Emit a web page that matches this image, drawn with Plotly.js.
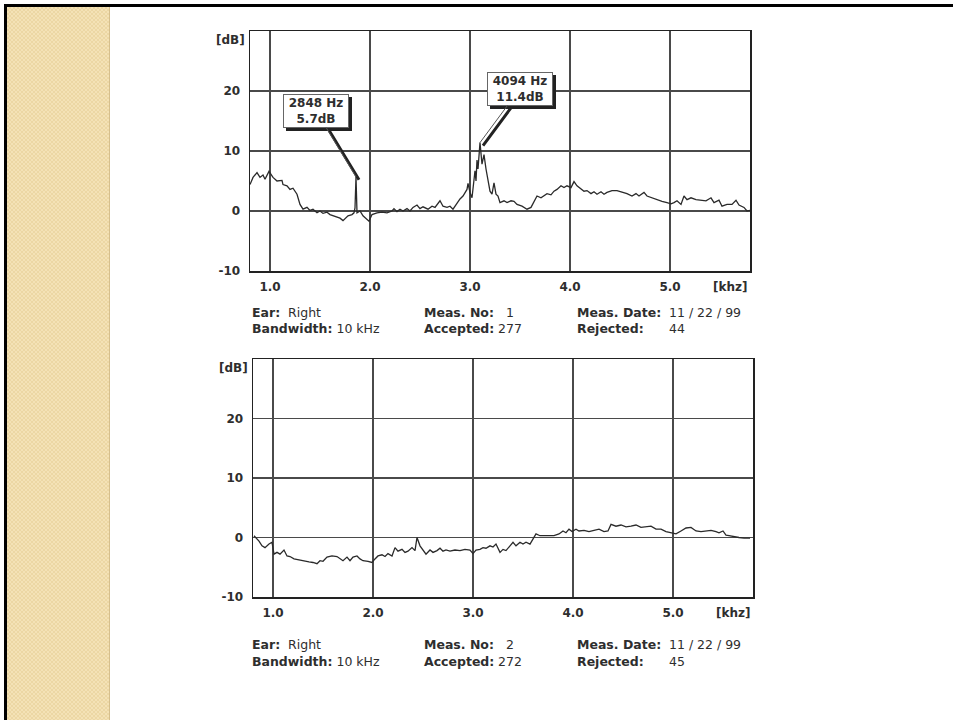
<!DOCTYPE html>
<html>
<head>
<meta charset="utf-8">
<script src="https://cdn.plot.ly/plotly-3.0.1.min.js"></script>
<style>
  html, body { margin:0; padding:0; background:#fff; width:953px; height:720px; overflow:hidden; }
  #frame { position:absolute; left:4px; top:4px; width:949px; height:716px; border-top:3px solid #000; border-left:3px solid #000; box-sizing:border-box; }
  #stripe { position:absolute; left:7px; top:7px; width:103px; height:713px;
    background-color:#f4e2b6;
    background-image: conic-gradient(#ecd7a4 25%, transparent 0 50%, #ecd7a4 0 75%, transparent 0);
    background-size:4px 4px; border-right:1px solid #d6bf8c; box-sizing:border-box; }
  #chart { position:absolute; left:0; top:0; width:953px; height:720px; }
</style>
</head>
<body>
<div id="frame"></div>
<div id="stripe"></div>
<div id="chart"></div>
<script>
// ---------- data ----------
const xTicks = [1, 2, 3, 4, 5];
const xTickLabels = ['1.0', '2.0', '3.0', '4.0', '5.0'];
const yTicks = [-10, 0, 10, 20];
const yTickLabels = ['-10', '0', '10', '20'];

const topFreq = [0.80,0.83,0.87,0.90,0.93,0.95,0.99,1.03,1.07,1.12,1.13,1.17,1.20,1.23,1.27,1.30,1.33,1.37,1.40,1.43,1.47,1.50,1.53,1.57,1.60,1.63,1.67,1.70,1.73,1.76,1.78,1.82,1.84,1.85,1.86,1.87,1.90,1.93,1.97,1.99,2.02,2.07,2.12,2.17,2.22,2.24,2.27,2.30,2.33,2.37,2.40,2.43,2.47,2.50,2.53,2.58,2.62,2.65,2.70,2.73,2.77,2.80,2.83,2.87,2.90,2.93,2.97,2.98,3.00,3.02,3.05,3.06,3.07,3.08,3.10,3.12,3.14,3.16,3.18,3.20,3.22,3.24,3.26,3.28,3.30,3.34,3.37,3.41,3.44,3.47,3.52,3.57,3.61,3.64,3.67,3.71,3.74,3.77,3.81,3.84,3.87,3.91,3.94,3.97,4.01,4.04,4.07,4.11,4.14,4.17,4.21,4.24,4.27,4.31,4.34,4.37,4.42,4.47,4.52,4.57,4.62,4.66,4.69,4.74,4.77,4.82,4.87,4.92,4.97,5.01,5.04,5.07,5.11,5.14,5.17,5.21,5.26,5.31,5.36,5.41,5.44,5.49,5.52,5.57,5.62,5.66,5.69,5.74,5.77,5.80];
const topLevel = [4.4,5.6,6.4,5.6,6.0,5.3,6.6,5.6,5.0,5.1,4.4,4.2,3.6,3.8,2.8,1.1,0.3,0.6,0.1,0.3,-0.3,0.0,-0.4,-0.2,-0.6,-0.8,-1.0,-1.2,-1.6,-1.2,-0.8,-0.6,-0.3,0.5,5.7,-0.3,0.0,-0.8,-1.4,-1.7,-0.6,-0.3,-0.2,-0.3,0.0,0.4,-0.1,0.3,0.0,0.4,0.0,0.6,1.0,0.4,0.7,0.3,0.8,0.6,1.7,0.8,0.6,0.8,0.3,1.4,2.0,2.5,3.6,4.6,3.1,2.2,6.7,5.0,8.5,7.0,11.4,7.8,9.4,7.0,5.0,3.3,2.8,4.7,2.8,2.5,1.4,1.7,1.4,1.7,1.6,1.1,0.8,0.3,0.6,1.7,2.5,2.2,2.5,2.9,2.7,3.3,3.6,4.2,3.9,4.2,3.9,4.9,4.2,3.6,3.3,3.4,2.9,3.2,2.8,3.2,2.8,3.1,3.4,3.4,3.2,2.9,2.5,2.9,2.5,3.1,2.5,2.2,1.8,1.6,1.4,1.2,1.4,1.7,1.1,2.5,1.9,2.2,1.9,1.8,1.7,2.2,1.4,1.8,0.8,1.1,1.1,1.8,1.0,0.6,0.0,0.1];

const bottomFreq = [0.81,0.83,0.86,0.89,0.92,0.96,0.99,1.01,1.04,1.07,1.11,1.14,1.17,1.21,1.26,1.31,1.36,1.40,1.44,1.47,1.50,1.54,1.59,1.64,1.67,1.70,1.74,1.77,1.80,1.84,1.87,1.90,1.95,1.99,2.02,2.05,2.09,2.12,2.15,2.19,2.22,2.25,2.29,2.32,2.35,2.39,2.42,2.44,2.47,2.50,2.53,2.57,2.60,2.64,2.67,2.70,2.73,2.77,2.82,2.87,2.92,2.97,3.00,3.03,3.07,3.10,3.13,3.17,3.20,3.23,3.27,3.30,3.33,3.37,3.40,3.43,3.47,3.50,3.53,3.57,3.60,3.63,3.67,3.71,3.76,3.81,3.86,3.90,3.93,3.96,3.99,4.03,4.06,4.11,4.16,4.21,4.26,4.31,4.35,4.38,4.43,4.48,4.53,4.58,4.63,4.68,4.73,4.78,4.83,4.88,4.93,4.98,5.03,5.08,5.13,5.18,5.23,5.28,5.33,5.38,5.43,5.46,5.50,5.53,5.56,5.61,5.66,5.71,5.77];
const bottomLevel = [0.3,0.0,-0.6,-1.4,-1.7,-1.1,-0.8,-2.8,-2.5,-2.8,-2.1,-3.1,-3.2,-3.6,-3.8,-3.9,-4.1,-4.2,-4.4,-3.9,-4.0,-3.3,-3.1,-3.2,-3.6,-3.9,-3.3,-3.9,-3.3,-3.1,-3.6,-3.9,-4.0,-4.2,-3.6,-3.1,-2.9,-3.2,-2.7,-3.1,-1.7,-2.3,-2.0,-2.5,-2.3,-1.7,-2.2,0.0,-1.4,-2.1,-2.8,-2.1,-2.5,-2.2,-1.8,-2.3,-2.1,-2.3,-2.1,-2.2,-2.0,-2.1,-2.7,-2.1,-2.0,-1.7,-1.8,-1.4,-1.6,-1.1,-2.5,-2.0,-2.2,-1.4,-0.8,-1.4,-0.8,-1.1,-0.8,-1.1,-0.3,0.6,0.3,0.3,0.3,0.3,0.6,1.1,0.8,1.4,1.0,1.4,1.1,1.2,1.0,1.2,1.4,1.0,1.1,2.2,1.9,2.1,1.8,1.9,2.1,1.7,1.8,1.9,1.4,1.4,1.0,0.8,0.6,1.1,1.6,1.7,1.1,1.0,1.1,1.2,1.0,0.8,1.1,0.4,0.3,0.1,0.0,-0.1,-0.1];

const peakFreq = [1.86, 3.10];
const peakLevel = [5.7, 11.4];
const peakLabels = ['2848 Hz<br>5.7dB', '4094 Hz<br>11.4dB'];

const earValues = ['Right', 'Right'];
const bandwidthValues = ['10 kHz', '10 kHz'];
const measNoValues = ['1', '2'];
const acceptedValues = ['277', '272'];
const measDateValues = ['11 / 22 / 99', '11 / 22 / 99'];
const rejectedValues = ['44', '45'];

// ---------- layout helpers ----------
const W = 953, H = 720;
const px = v => v / W;
const py = v => 1 - v / H;
const FONT = 'DejaVu Sans, Arial, sans-serif';
const TXT = '#2e2e2e';
const GRID = '#4a4a4a';

function xAxis(left, right, anchor) {
  return {
    domain: [px(left), px(right)], range: [0.8, 5.8], anchor: anchor,
    tickvals: xTicks, ticktext: xTickLabels, ticks: '',
    showgrid: true, gridcolor: GRID, gridwidth: 1.2,
    showline: true, mirror: true, linecolor: '#222', linewidth: 1.5,
    zeroline: false, fixedrange: true, ticklabelstandoff: 4,
    tickfont: {family: FONT, size: 12, weight: 'bold', color: TXT}
  };
}
function yAxis(top, bottom, anchor) {
  return {
    domain: [py(bottom), py(top)], range: [-10, 30], anchor: anchor,
    tickvals: yTicks, ticktext: yTickLabels, ticks: '',
    showgrid: true, gridcolor: GRID, gridwidth: 1.2,
    showline: true, mirror: true, linecolor: '#222', linewidth: 1.5,
    zeroline: false, fixedrange: true, ticklabelstandoff: 6,
    tickfont: {family: FONT, size: 12, weight: 'bold', color: TXT}
  };
}

const traces = [
  {x: topFreq, y: topLevel, xaxis: 'x', yaxis: 'y', type: 'scatter', mode: 'lines',
   line: {color: '#2a2a2a', width: 1.3}, hoverinfo: 'skip'},
  {x: bottomFreq, y: bottomLevel, xaxis: 'x2', yaxis: 'y2', type: 'scatter', mode: 'lines',
   line: {color: '#2a2a2a', width: 1.3}, hoverinfo: 'skip'}
];

const annotations = [];
// axis unit labels
[['x', 'y'], ['x2', 'y2']].forEach(([xa, ya]) => {
  annotations.push({xref: xa + ' domain', yref: ya + ' domain', x: 0, y: 1, xanchor: 'right', yanchor: 'middle',
    xshift: -3, yshift: -9, text: '[dB]', showarrow: false,
    font: {family: FONT, size: 12, weight: 'bold', color: TXT}});
  annotations.push({xref: xa + ' domain', yref: ya + ' domain', x: 1, y: 0, xanchor: 'right', yanchor: 'middle',
    xshift: -1, yshift: -16, text: '[khz]', showarrow: false,
    font: {family: FONT, size: 12, weight: 'bold', color: TXT}});
});

// peak callouts (shadow box + labelled box)
const callOffsets = [[-40, -66], [40, -54]];
peakFreq.forEach((f, i) => {
  const [ax, ay] = callOffsets[i];
  annotations.push({xref: 'x', yref: 'y', x: f, y: peakLevel[i], ax: ax, ay: ay,
    showarrow: true, arrowhead: 0, arrowwidth: 3, arrowcolor: '#222', standoff: 0,
    xshift: 3, yshift: -3, width: 60, height: 28,
    text: '&nbsp;', bgcolor: '#222', bordercolor: '#222', borderwidth: 1, borderpad: 2,
    font: {family: FONT, size: 12, color: '#222'}});
  annotations.push({xref: 'x', yref: 'y', x: f, y: peakLevel[i], ax: ax, ay: ay,
    showarrow: true, arrowhead: 0, arrowwidth: 1, arrowcolor: '#555', standoff: 0,
    width: 60, height: 28,
    text: peakLabels[i], bgcolor: '#ffffff', bordercolor: '#666', borderwidth: 1, borderpad: 2,
    font: {family: FONT, size: 12, weight: 'bold', color: TXT}});
});

// info blocks
const infoRows = [[312, 329], [644, 661]];
const colX = {lab1: 250, lab2: 422, val2a: 504, val2b: 496, lab3: 575, val3: 667};
function info(x, y, text) {
  annotations.push({xref: 'paper', yref: 'paper', x: px(x), y: py(y), xanchor: 'left', yanchor: 'middle',
    text: text, showarrow: false, font: {family: FONT, size: 12.5, color: TXT}});
}
infoRows.forEach(([r1, r2], i) => {
  info(colX.lab1, r1, '<b>Ear:</b>  ' + earValues[i]);
  info(colX.lab1, r2, '<b>Bandwidth:</b> ' + bandwidthValues[i]);
  info(colX.lab2, r1, '<b>Meas. No:</b>');
  info(colX.val2a, r1, measNoValues[i]);
  info(colX.lab2, r2, '<b>Accepted:</b>');
  info(colX.val2b, r2, acceptedValues[i]);
  info(colX.lab3, r1, '<b>Meas. Date:</b>');
  info(colX.val3, r1, measDateValues[i]);
  info(colX.lab3, r2, '<b>Rejected:</b>');
  info(colX.val3, r2, rejectedValues[i]);
});

const layout = {
  width: W, height: H,
  margin: {l: 0, r: 0, t: 0, b: 0},
  paper_bgcolor: 'rgba(0,0,0,0)', plot_bgcolor: '#ffffff',
  showlegend: false,
  xaxis: xAxis(250, 750, 'y'),
  yaxis: yAxis(31, 271, 'x'),
  xaxis2: xAxis(253, 753, 'y2'),
  yaxis2: yAxis(359, 597, 'x2'),
  annotations: annotations
};

Plotly.newPlot('chart', traces, layout, {staticPlot: true, displayModeBar: false});
</script>
</body>
</html>
